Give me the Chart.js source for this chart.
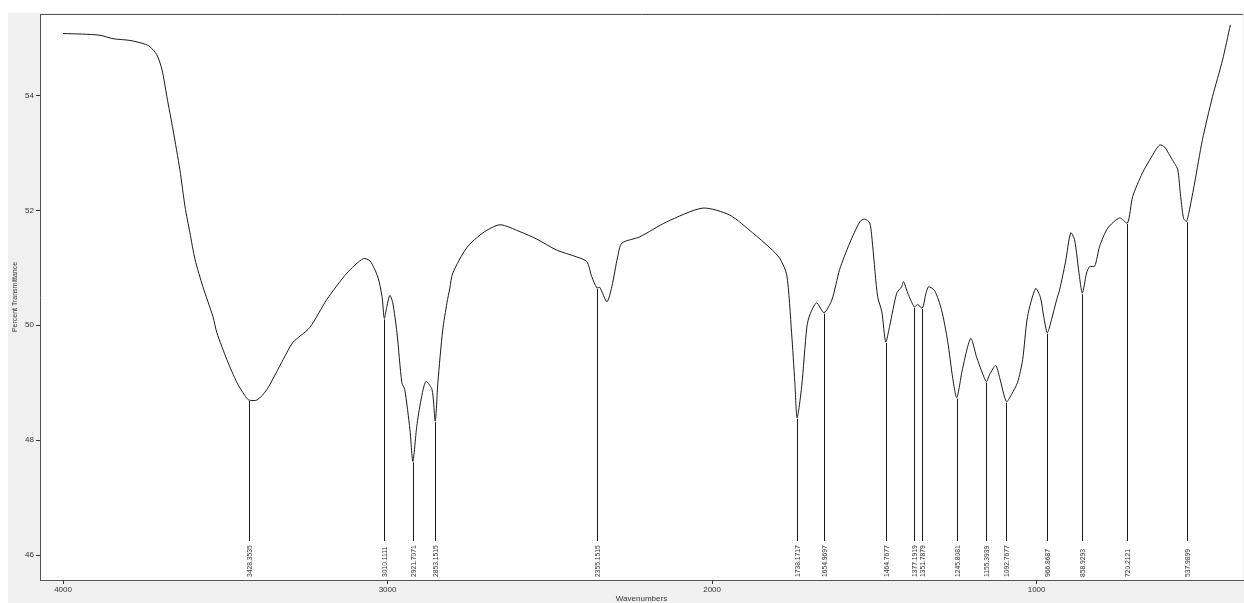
<!DOCTYPE html>
<html lang="en">
<head>
    <meta charset="UTF-8">
    <title>IR Spectrum</title>
    <script src="https://cdn.jsdelivr.net/npm/chart.js@4.4.0/dist/chart.umd.min.js"></script>
    <style>
        body { margin: 0; background: #fff; }
        #wrap { width: 1244px; height: 603px; }
    </style>
</head>
<body>
    <div id="wrap"><canvas id="irChart" width="1244" height="603"></canvas></div>

    <script>
        // spectrum trace
        const wavenumbers = [
            4000, 3940, 3886, 3846, 3794, 3750, 3732, 3711, 3695, 3680, 3661, 3640, 3624, 3609, 3593,
            3569, 3538, 3526, 3495, 3464, 3440, 3428, 3402, 3372, 3322, 3292, 3240, 3187, 3125, 3075, 3054,
            3030, 3017, 3010, 3002, 2993, 2984, 2971, 2956, 2947, 2931, 2922, 2910, 2897, 2882, 2863,
            2853, 2845, 2830, 2817, 2808, 2799, 2756, 2706, 2654, 2592, 2540, 2479, 2417, 2386, 2371,
            2355, 2346, 2324, 2309, 2291, 2278, 2223, 2140, 2029, 1946, 1875, 1822, 1792, 1770, 1755,
            1745, 1738, 1724, 1708, 1699, 1678, 1655, 1631, 1607, 1576, 1545, 1530, 1514, 1505, 1490,
            1477, 1465, 1453, 1431, 1416, 1410, 1397, 1377, 1367, 1352, 1342, 1333, 1314, 1293, 1274,
            1259, 1246, 1228, 1203, 1184, 1155, 1145, 1126, 1114, 1093, 1077, 1059, 1043, 1028, 1003,
            988, 978, 967, 954, 938, 929, 911, 895, 883, 868, 859, 846, 837, 821, 806,
            781, 744, 720, 704, 674, 646, 621, 605, 590, 575, 565, 556, 547, 538, 529,
            513, 489, 458, 427, 403
        ];
        const transmittance = [
            55.08, 55.07, 55.05, 54.99, 54.96, 54.90, 54.85, 54.71, 54.45, 53.98, 53.40, 52.71, 52.06, 51.61, 51.14,
            50.67, 50.15, 49.87, 49.40, 49.00, 48.78, 48.70, 48.70, 48.88, 49.40, 49.70, 49.96, 50.45, 50.91, 51.16, 51.12,
            50.84, 50.50, 50.12, 50.33, 50.52, 50.39, 49.87, 49.00, 48.88, 48.18, 47.63, 48.24, 48.70, 49.02, 48.88,
            48.33, 49.00, 49.92, 50.39, 50.65, 50.91, 51.35, 51.61, 51.75, 51.63, 51.50, 51.31, 51.19, 51.11, 50.85,
            50.65, 50.66, 50.41, 50.67, 51.19, 51.43, 51.54, 51.80, 52.04, 51.92, 51.61, 51.35, 51.17, 50.88, 49.87,
            49.00, 48.39, 48.93, 49.97, 50.18, 50.39, 50.22, 50.44, 50.97, 51.43, 51.80, 51.85, 51.78, 51.37, 50.50,
            50.24, 49.71, 49.98, 50.56, 50.67, 50.76, 50.56, 50.32, 50.36, 50.30, 50.53, 50.67, 50.60, 50.27, 49.72,
            49.10, 48.74, 49.25, 49.77, 49.43, 49.02, 49.14, 49.30, 49.09, 48.67, 48.80, 49.00, 49.40, 50.15, 50.64,
            50.48, 50.15, 49.87, 50.10, 50.45, 50.62, 51.10, 51.61, 51.49, 50.85, 50.56, 50.91, 51.02, 51.03, 51.37,
            51.69, 51.87, 51.78, 52.24, 52.65, 52.93, 53.14, 53.10, 52.96, 52.82, 52.71, 52.24, 51.86, 51.81, 52.01,
            52.48, 53.23, 53.98, 54.62, 55.23
        ];

        // picked peaks
        const peakLabels = [
            '3428.3535', '3010.1111', '2921.7071', '2853.1515', '2355.1515', '1738.1717', '1654.9697',
            '1464.7677', '1377.1919', '1351.7879', '1245.8081', '1155.3939', '1092.7677', '966.8687',
            '858.9293', '720.2121', '537.9899'
        ];
        const peakWavenumbers = peakLabels.map(Number);
        const peakTransmittance = [
            48.70, 50.12, 47.63, 48.33, 50.65, 48.39, 50.22,
            49.71, 50.32, 50.30, 48.74, 49.02, 48.67, 49.87,
            50.56, 51.78, 51.81
        ];
        const peakLineBottom = 46.25;

        const xTicks = [4000, 3000, 2000, 1000];
        const yTicks = [46, 48, 50, 52, 54];

        const spectrum = wavenumbers.map((w, i) => ({ x: w, y: transmittance[i] }));

        const frame = {
            id: 'frame',
            beforeDraw(chart) {
                const { ctx, chartArea: a, width, height } = chart;
                ctx.save();
                ctx.fillStyle = '#ffffff';
                ctx.fillRect(0, 0, width, height);
                ctx.fillStyle = '#f0f0f0';
                ctx.fillRect(8, 13, width - 8, height - 13);
                ctx.fillStyle = '#ffffff';
                ctx.fillRect(a.left, a.top, a.right - a.left, a.bottom - a.top);
                ctx.restore();
            },
            afterDraw(chart) {
                const { ctx, chartArea: a } = chart;
                ctx.save();
                ctx.strokeStyle = '#555';
                ctx.lineWidth = 1;
                ctx.beginPath();
                ctx.moveTo(a.left, a.top + 0.5);
                ctx.lineTo(a.right, a.top + 0.5);
                ctx.stroke();
                ctx.restore();
            }
        };

        // vertical peak markers + rotated labels
        const peakMarks = {
            id: 'peakMarks',
            afterDatasetsDraw(chart) {
                const { ctx, chartArea: a } = chart;
                const xs = chart.scales.x, ys = chart.scales.y;
                const yEnd = Math.round(ys.getPixelForValue(peakLineBottom));
                ctx.save();
                ctx.strokeStyle = '#1a1a1a';
                ctx.lineWidth = 1;
                peakWavenumbers.forEach((w, i) => {
                    const px = Math.round(xs.getPixelForValue(w)) + 0.5;
                    ctx.beginPath();
                    ctx.moveTo(px, ys.getPixelForValue(peakTransmittance[i]) + 1);
                    ctx.lineTo(px, yEnd);
                    ctx.stroke();
                });
                ctx.fillStyle = '#333';
                ctx.font = "8px 'Liberation Sans', sans-serif";
                ctx.textAlign = 'left';
                ctx.textBaseline = 'middle';
                peakLabels.forEach((lbl, i) => {
                    const px = Math.round(xs.getPixelForValue(peakWavenumbers[i])) + 0.5;
                    ctx.save();
                    ctx.translate(px, a.bottom - 3);
                    ctx.rotate(-Math.PI / 2);
                    ctx.scale(0.84, 1);
                    ctx.fillText(lbl, 0, 0);
                    ctx.restore();
                });
                ctx.restore();
            }
        };

        const tickFont = { family: "'Liberation Sans', sans-serif", size: 8 };

        new Chart(document.getElementById('irChart'), {
            type: 'line',
            data: {
                datasets: [{
                    label: 'Spectrum',
                    data: spectrum,
                    borderColor: '#1a1a1a',
                    borderWidth: 1,
                    pointRadius: 0,
                    tension: 0.25,
                    fill: false
                }]
            },
            options: {
                responsive: false,
                animation: false,
                events: [],
                layout: { padding: { top: 14, right: 1, left: 0, bottom: 0 } },
                plugins: {
                    legend: { display: false },
                    tooltip: { enabled: false }
                },
                scales: {
                    x: {
                        type: 'linear',
                        reverse: true,
                        min: 364,
                        max: 4071,
                        afterBuildTicks: s => { s.ticks = xTicks.map(v => ({ value: v })); },
                        afterFit: s => { s.height = 23; },
                        grid: { drawOnChartArea: false, drawTicks: true, tickLength: 4, color: '#333' },
                        border: { display: true, color: '#555' },
                        ticks: { font: tickFont, color: '#333', padding: 1, maxRotation: 0, callback: v => String(v) },
                        title: {
                            display: true,
                            text: 'Wavenumbers',
                            font: { family: "'Liberation Sans', sans-serif", size: 8, lineHeight: 1 },
                            color: '#333',
                            padding: 0
                        }
                    },
                    y: {
                        min: 45.565,
                        max: 55.42,
                        afterBuildTicks: s => { s.ticks = yTicks.map(v => ({ value: v })); },
                        afterFit: s => { s.width = 40; },
                        grid: { drawOnChartArea: false, drawTicks: true, tickLength: 4, color: '#333' },
                        border: { display: true, color: '#555' },
                        ticks: { font: tickFont, color: '#333', padding: 2 },
                        title: {
                            display: true,
                            text: 'Percent Transmittance',
                            font: { family: "'Liberation Sans', sans-serif", size: 7, lineHeight: 1 },
                            color: '#333',
                            padding: { top: 11.5 }
                        }
                    }
                }
            },
            plugins: [frame, peakMarks]
        });
    </script>
</body>
</html>
